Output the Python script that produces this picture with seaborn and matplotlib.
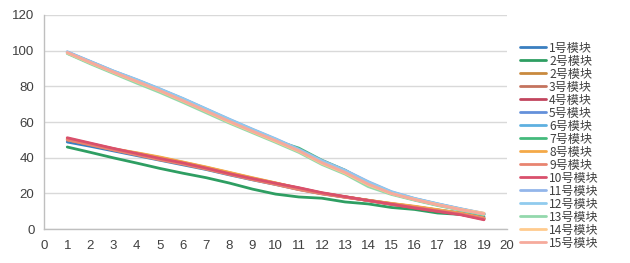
import matplotlib
matplotlib.use("Agg")
import matplotlib.pyplot as plt
import seaborn as sns
import pandas as pd

sns.set_theme(style="white")
plt.rcParams['font.family'] = ['Liberation Sans', 'Noto Sans CJK SC', 'DejaVu Sans']

x_vals = list(range(1, 20))

labels = ["1号模块", "2号模块", "2号模块", "3号模块", "4号模块", "5号模块", "6号模块",
          "7号模块", "8号模块", "9号模块", "10号模块", "11号模块", "12号模块",
          "13号模块", "14号模块", "15号模块"]

colors = ["#3A7FC0", "#2E9E62", "#C98A3E", "#C4735E", "#C2455E", "#6490DA",
          "#5EB0E0", "#44BA7C", "#F4A948", "#E88470", "#D9506C", "#93B6EA",
          "#90CBEE", "#93D8AC", "#FFCB8E", "#F6AA9C"]

s1 = [48.8, 46.4, 43.8, 41.2, 38.6, 36.0, 33.4, 30.4, 27.6, 25.0, 22.2, 19.8, 17.9, 16.1, 14.2, 12.5, 10.7, 9.1, 6.9]
s2g = [46.0, 43.0, 39.9, 37.0, 34.0, 31.3, 28.8, 25.8, 22.4, 19.6, 18.0, 17.3, 15.2, 14.1, 12.1, 11.0, 9.0, 8.2, 6.0]
s2o = [50.0, 47.4, 44.8, 42.6, 40.1, 37.4, 34.6, 31.6, 28.6, 25.8, 22.8, 20.1, 18.1, 16.2, 14.3, 12.6, 10.7, 8.8, 6.1]
s3 = [50.2, 47.3, 44.4, 41.8, 39.0, 36.6, 33.8, 30.8, 27.9, 25.2, 22.3, 19.9, 17.9, 16.0, 13.9, 12.0, 10.1, 8.4, 5.8]
s4 = [50.8, 47.9, 45.0, 42.2, 39.4, 37.0, 34.1, 31.0, 28.1, 25.6, 23.0, 20.2, 18.1, 16.0, 13.9, 11.8, 9.9, 8.2, 5.5]
s5 = [99.2, 93.8, 88.4, 83.5, 78.2, 72.8, 67.0, 61.2, 55.6, 50.2, 44.6, 38.2, 32.8, 26.2, 20.6, 17.0, 14.0, 11.2, 8.6]
s6 = [99.0, 93.7, 88.3, 83.4, 78.3, 72.9, 67.1, 61.0, 55.4, 50.0, 44.2, 37.8, 32.4, 25.8, 20.4, 16.9, 13.9, 11.1, 8.4]
s7 = [98.6, 93.0, 87.6, 82.4, 77.4, 71.8, 65.9, 60.2, 54.8, 49.6, 45.4, 38.6, 33.0, 25.4, 19.8, 16.4, 13.4, 10.8, 8.2]
s8 = [50.4, 47.6, 45.0, 42.8, 40.4, 37.6, 34.8, 31.8, 28.8, 25.9, 22.9, 20.1, 18.0, 16.1, 14.4, 12.8, 10.9, 8.9, 6.2]
s9 = [50.0, 47.2, 44.3, 41.6, 38.8, 36.4, 33.6, 30.6, 27.7, 25.0, 22.1, 19.7, 17.8, 16.0, 14.0, 12.2, 10.3, 8.5, 5.9]
s10 = [51.2, 48.2, 45.2, 42.4, 39.6, 37.1, 34.2, 31.1, 28.3, 25.7, 23.2, 20.4, 18.2, 16.0, 14.0, 11.9, 10.0, 8.0, 5.2]
s11 = [99.4, 94.0, 88.6, 83.8, 78.6, 73.2, 67.4, 61.6, 56.0, 50.6, 44.8, 38.4, 33.0, 26.6, 21.0, 17.2, 14.2, 11.4, 8.8]
s12 = [99.2, 93.8, 88.5, 83.6, 78.4, 73.0, 67.2, 61.4, 55.8, 50.4, 44.4, 38.0, 32.6, 26.2, 20.8, 17.1, 14.1, 11.3, 8.7]
s13 = [98.4, 92.6, 87.2, 81.8, 76.6, 71.0, 65.2, 59.4, 54.0, 48.6, 43.0, 36.2, 30.8, 23.8, 19.4, 16.2, 13.2, 10.6, 8.0]
s14 = [98.8, 93.2, 87.8, 82.6, 77.4, 71.8, 66.0, 60.0, 54.6, 49.2, 43.6, 36.8, 31.4, 24.8, 19.9, 16.6, 13.7, 11.0, 8.9]
s15 = [99.0, 93.4, 88.0, 82.8, 77.6, 72.0, 66.2, 60.4, 54.9, 49.6, 43.9, 37.2, 31.8, 25.2, 20.0, 16.6, 13.6, 10.9, 8.5]

series = [s1, s2g, s2o, s3, s4, s5, s6, s7, s8, s9, s10, s11, s12, s13, s14, s15]

fig = plt.figure(figsize=(6.3, 2.63), dpi=100)
ax = fig.add_axes([0.070, 0.129, 0.735, 0.814])

for vals, lab, col in zip(series, labels, colors):
    df = pd.DataFrame({"x": x_vals, "y": vals})
    sns.lineplot(data=df, x="x", y="y", color=col, linewidth=2.0, label=lab, ax=ax)

ax.set_xlim(0, 20)
ax.set_ylim(0, 120)
ax.set_xticks(range(0, 21))
ax.set_yticks(range(0, 121, 20))
ax.set_xlabel("")
ax.set_ylabel("")
ax.grid(axis='y', color='#D9D9D9', linewidth=1.0)
ax.grid(axis='x', visible=False)
ax.set_axisbelow(True)
for sp in ['top', 'right']:
    ax.spines[sp].set_visible(False)
for sp in ['left', 'bottom']:
    ax.spines[sp].set_color('#BFBFBF')
    ax.spines[sp].set_linewidth(1.0)
ax.tick_params(axis='both', which='both', labelsize=9.5, colors='#BFBFBF',
               labelcolor='#404040', length=4, width=1.0, direction='out')
ax.tick_params(axis='x', pad=4)
ax.tick_params(axis='y', pad=3)

leg = ax.legend(loc='upper left', bbox_to_anchor=(1.028, 0.876), frameon=False,
                handlelength=2.15, handletextpad=0.25,
                labelspacing=0.0, borderaxespad=0.0, borderpad=0.0,
                prop={'family': ['Noto Sans CJK SC', 'DejaVu Sans'], 'size': 8.7})
for t in leg.get_texts():
    t.set_color('#404040')

fig.savefig("out.png", dpi=100)
